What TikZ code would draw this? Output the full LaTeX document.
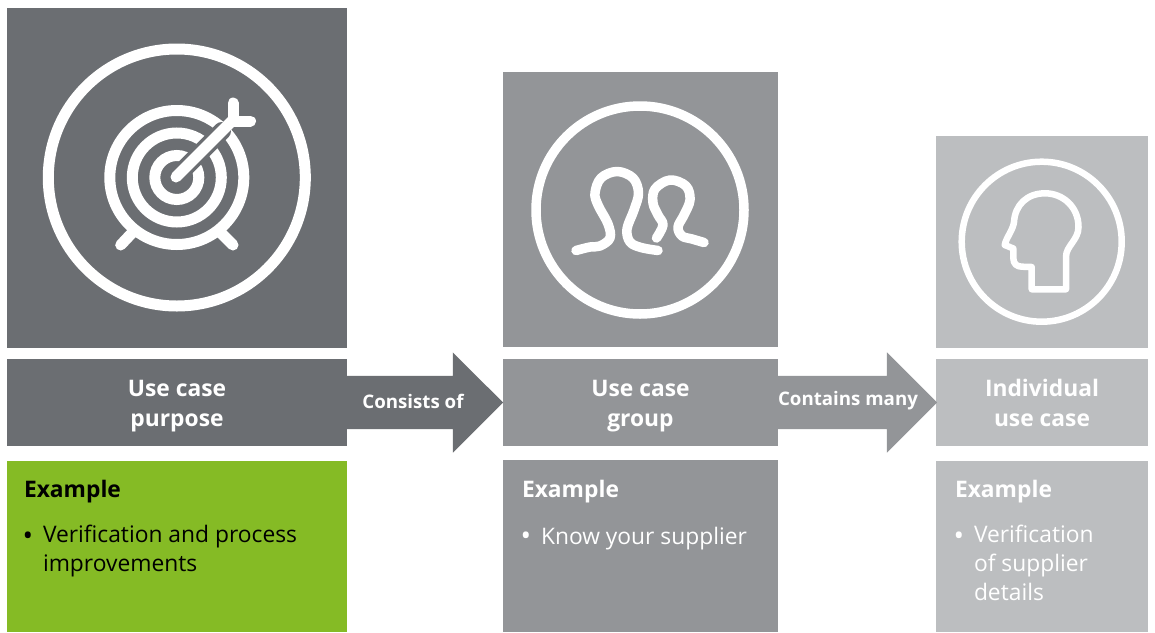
\documentclass[tikz,border=0pt]{standalone}
\usepackage{fontspec}
\setmainfont{Open Sans}
\usepackage{xcolor}
\usetikzlibrary{shapes.arrows}
\definecolor{darkgrey}{HTML}{6B6E72}
\definecolor{midgrey}{HTML}{939598}
\definecolor{lightgrey}{HTML}{BCBEC0}
\definecolor{leaf}{HTML}{85BB25}
\tikzset{>=stealth}

\begin{document}
\begin{tikzpicture}[x=1pt,y=-1pt,
      panel/.style={inner sep=0pt,outer sep=0pt},
      title/.style={panel,text=white,align=center,font=\fontsize{22.8}{30}\selectfont\bfseries},
      flow/.style={panel,inner ysep=26.5pt,single arrow,single arrow tip angle=90,single arrow head indent=0pt,
        single arrow head extend=23.5pt,minimum width=100pt,anchor=tail},
      flowtext/.style={panel,text=white,font=\fontsize{18.7}{20}\selectfont\bfseries},
      head/.style={panel,anchor=base west,font=\fontsize{22.8}{29}\selectfont\bfseries},
      body/.style={panel,anchor=base west,align=left,font=\fontsize{22.8}{29}\selectfont},
      dot/.style={panel,anchor=base west,font=\fontsize{28}{28}\selectfont},
      ring/.style={draw=white,line width=#1},
      stroke/.style={draw=white,line width=#1,line cap=round,line join=round}]
    \useasboundingbox (0,0) rectangle (1155,632);
    %% Top squares
    \node [panel, fill=darkgrey, minimum width=340pt, minimum height=340pt] at (177,178) (purpose) {};
    \node [panel, fill=midgrey, minimum width=275pt, minimum height=275pt] at (640.5,209.5) (group) {};
    \node [panel, fill=lightgrey, minimum width=212pt, minimum height=212pt] at (1042,242) (single) {};
    %% Title bars
    \node [title, fill=darkgrey, minimum width=340pt, minimum height=87pt] at (177,402.5) (purpose_bar) {};
    \node [title, fill=midgrey, minimum width=275pt, minimum height=87pt] at (640.5,402.5) (group_bar) {};
    \node [title, fill=lightgrey, minimum width=212pt, minimum height=87pt] at (1042,402.5) (single_bar) {};
    \node [title] at (177,405) (purpose_name) {\strut Use case\\purpose\strut};
    \node [title] at (640.5,405) (group_name) {\strut Use case\\group\strut};
    \node [title] at (1042,405) (single_name) {\strut Individual\\use case\strut};
    %% Example boxes
    \node [panel, fill=leaf, minimum width=340pt, minimum height=171pt] at (177,546.5) (purpose_box) {};
    \node [panel, fill=midgrey, minimum width=275pt, minimum height=172pt] at (640.5,546) (group_box) {};
    \node [panel, fill=lightgrey, minimum width=212pt, minimum height=171pt] at (1042,546.5) (single_box) {};
    %% Arrows between the bars
    \node [flow, fill=darkgrey, minimum height=156pt] at (purpose_bar.east) (consists) {};
    \node [flow, fill=midgrey, minimum height=159pt] at (group_bar.east) (contains) {};
    \node [flowtext] at (413,401) (consists_text) {Consists of};
    \node [flowtext] at (848,401) (contains_text) {Contains many};
    %% Example texts
    \node [head, text=black] at (24,497) (purpose_head) {Example};
    \node [dot, text=black] at (22.5,545.5) (purpose_dot) {•};
    \node [body, text=black, anchor=north west] at (43,525) (purpose_text) {Verification and process\\improvements};
    \node [head, text=white] at (522,497) (group_head) {Example};
    \node [dot, text=white] at (520.5,545.5) (group_dot) {•};
    \node [body, text=white] at (541,544) (group_text) {Know your supplier};
    \node [head, text=white] at (955,497) (single_head) {Example};
    \node [dot, text=white] at (953.5,545.5) (single_dot) {•};
    \node [body, text=white, anchor=north west] at (974,525) (single_text) {Verification\\of supplier\\details};
    %% Target
    \draw [ring=11pt] (176.8,177.5) circle (128.5);
    \draw [stroke=11pt] (120.7,245) -- (132,233);
    \draw [stroke=11pt] (233,245) -- (221,233);
    \draw [ring=11pt] (176.8,177.5) circle (67);
    \draw [ring=11pt] (176.8,177.5) circle (44.5);
    \draw [ring=11pt] (176.8,177.5) circle (22);
    \draw [draw=darkgrey, line width=18pt, line cap=round] (176,177) -- (222,131);
    \draw [stroke=11pt] (176,177) -- (233,120);
    \draw [stroke=11pt] (233,103) -- (233,121) -- (250.5,121);
    %% Two people
    \draw [ring=9.5pt] (640,210) circle (104);
    \draw [stroke=9.5pt] plot [smooth, tension=0.6] coordinates {(576,250.5) (590,247) (600,246) (610,238) (608,224) (598,205) (595,193) (601,178) (617,171.5) (633,178) (638.5,193) (634,210) (627,229) (630,242) (641,247.5) (658,250.5)};
    \draw [stroke=9.5pt] plot [smooth, tension=0.6] coordinates {(656.5,238) (663,225) (658,215) (653,203) (655,189) (670,180) (686,186) (690,200) (684,215) (678,227) (682,236) (692,239) (704,242.5)};
    %% Head
    \draw [ring=6.5pt] (1041.7,241.7) circle (80);
    \draw [stroke=6.5pt] (1031.7,289.3) -- (1066,289.3) -- (1066,256.7)
      .. controls (1066,246) and (1078.5,240) .. (1078.5,227)
      .. controls (1078.5,207) and (1063,193.3) .. (1045,193.3)
      .. controls (1027,193.3) and (1015,205) .. (1014,222)
      .. controls (1013,230) and (1006,238) .. (1004.7,245)
      -- (1013.3,248.5) -- (1013.3,258)
      .. controls (1013.3,264) and (1017,266.7) .. (1022,266.7)
      -- (1031.7,267) -- cycle;
  \end{tikzpicture}
\end{document}
